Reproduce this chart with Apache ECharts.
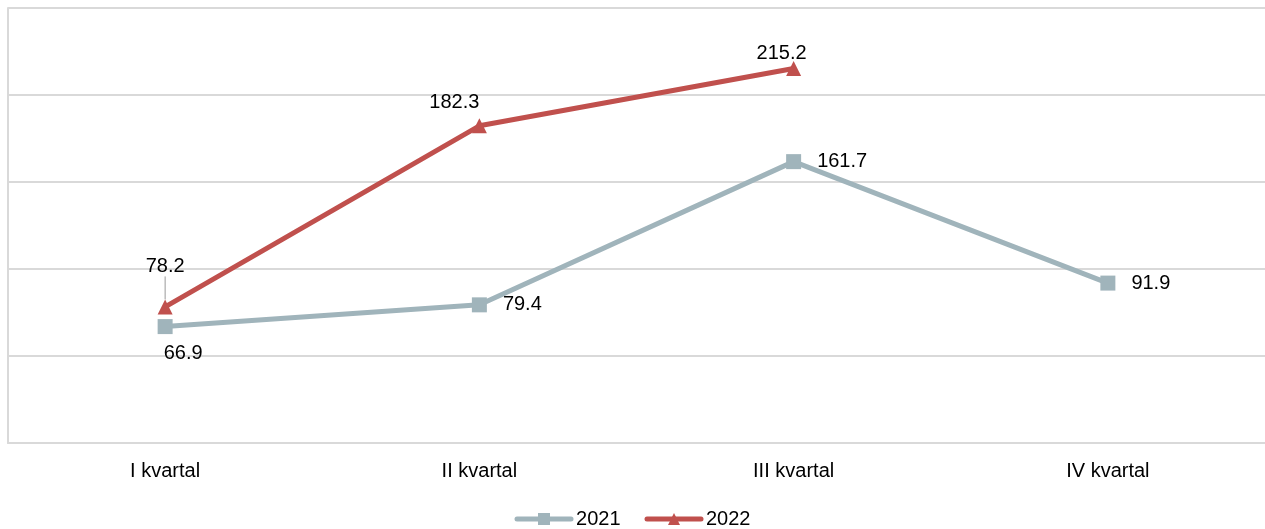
<!DOCTYPE html>
<html><head><meta charset="utf-8">
<script src="https://cdn.jsdelivr.net/npm/echarts@6/dist/echarts.min.js"></script>
<style>html,body{margin:0;padding:0;background:#fff}#c{width:1265px;height:529px}</style>
</head><body><div id="c"></div>
<script>
const categories = ['I kvartal', 'II kvartal', 'III kvartal', 'IV kvartal'];
const values2021 = [66.9, 79.4, 161.7, 91.9];
const values2022 = [78.2, 182.3, 215.2, null];
const seriesNames = ['2021', '2022'];

const FONT = '"Liberation Sans", Arial, sans-serif';
const txt = { color: '#000', fontFamily: FONT, fontSize: 20 };

const chart = echarts.init(document.getElementById('c'));
chart.setOption({
  animation: false,
  grid: { left: 8, right: 0, top: 8, bottom: 86, containLabel: false },
  legend: {
    top: 504, left: 'center', itemWidth: 54, itemHeight: 15, itemGap: 24,
    textStyle: Object.assign({}, txt, { padding: [0, 0, 0, 0] }),
    lineStyle: { width: 5, cap: 'round' },
    data: seriesNames
  },
  xAxis: {
    type: 'category', data: categories, boundaryGap: true,
    axisLine: { show: true, lineStyle: { color: '#d9d9d9', width: 2 } },
    axisTick: { show: false },
    axisLabel: Object.assign({}, txt, { margin: 18 })
  },
  yAxis: {
    type: 'value', min: 0, max: 250, interval: 50,
    axisLabel: { show: false },
    axisLine: { show: true, lineStyle: { color: '#d9d9d9', width: 2 } },
    axisTick: { show: false },
    splitLine: { show: true, lineStyle: { color: '#d9d9d9', width: 2 } }
  },
  series: [
    {
      name: seriesNames[0], type: 'line', data: values2021.map((v, i) => i === 0 ? {
        value: v, label: { position: 'bottom', offset: [18, -7] }
      } : v),
      color: '#a0b4bb',
      lineStyle: { width: 5, color: '#a0b4bb' },
      symbol: 'rect', symbolSize: 15, showAllSymbol: true,
      itemStyle: { color: '#a0b4bb' },
      label: Object.assign({ show: true, position: 'right', distance: 16 }, txt),
      z: 2
    },
    {
      name: seriesNames[1], type: 'line', data: values2022.map((v, i) => {
        if (i === 0) return { value: v, labelLine: { show: true } };
        return { value: v, labelLine: { show: false } };
      }),
      color: '#c0504d',
      lineStyle: { width: 5, color: '#c0504d' },
      symbol: 'triangle', symbolSize: 15, showAllSymbol: true,
      itemStyle: { color: '#c0504d' },
      label: Object.assign({ show: true, position: 'top', distance: 6 }, txt),
      labelLine: { show: false, lineStyle: { color: '#999', width: 1 } },
      labelLayout: function (p) {
        if (p.dataIndex === 0) return { dy: -17 };
        if (p.dataIndex === 1) return { dx: -25 };
        if (p.dataIndex === 2) return { dx: -12, dy: 8 };
        return {};
      },
      z: 3
    }
  ]
});
</script></body></html>
